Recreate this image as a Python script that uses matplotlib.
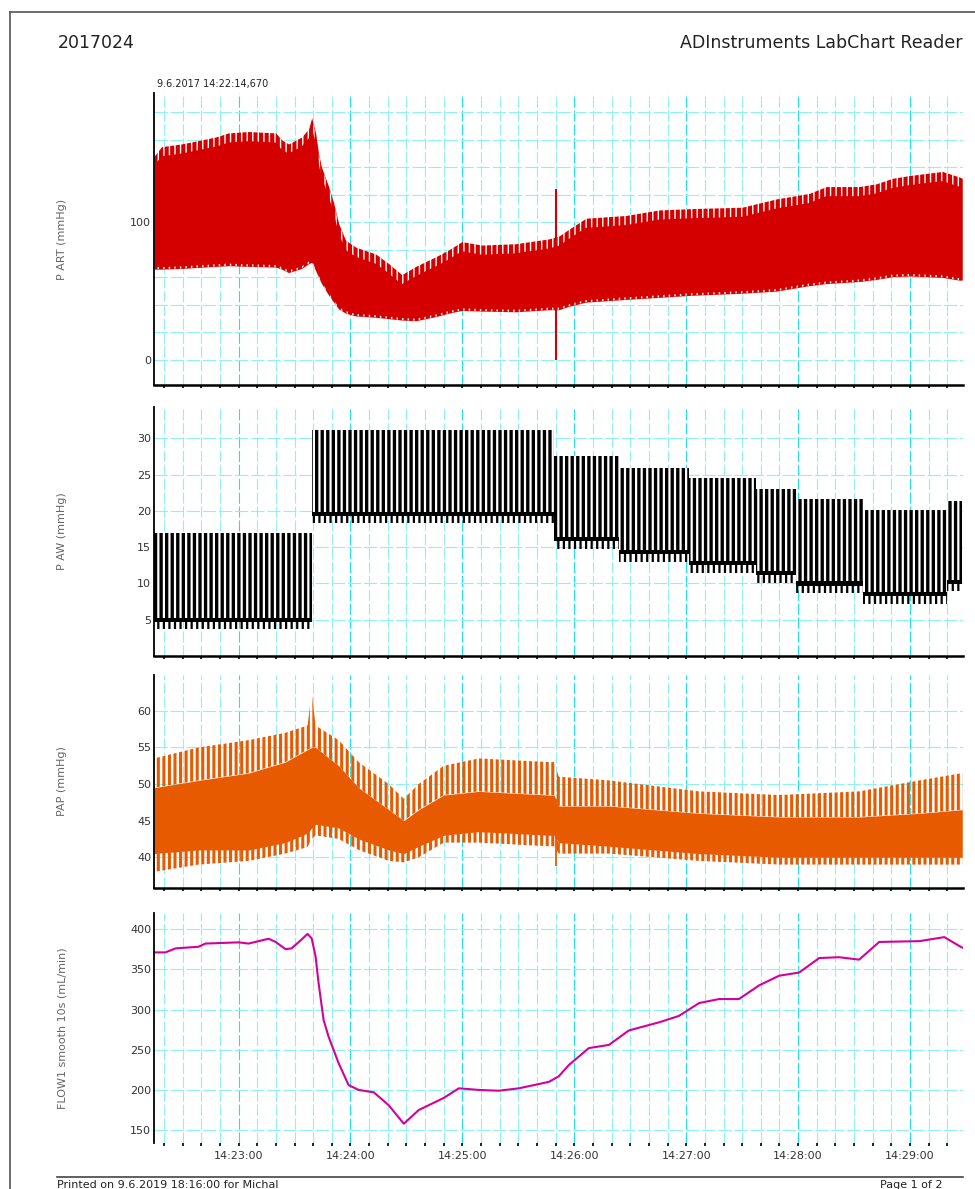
import matplotlib.pyplot as plt
from matplotlib.lines import Line2D
from matplotlib.ticker import MultipleLocator, FixedLocator, FuncFormatter, NullFormatter

# time axis: seconds after 14:22:00
t_start, t_end = 14.67, 448.4

# P ART envelope (mmHg)
art_t = [14.7, 18.7, 29.4, 47.7, 54.6, 65.4, 79.9, 83.1, 86.8, 93.8, 97.6, 99.2,
         101.3, 102.9, 104.5, 108.3, 111.0, 113.7, 117.4, 122.8, 133.5, 140.5,
         147.5, 155.0, 165.7, 172.7, 179.7, 190.4, 208.7, 226.4, 231.7, 237.1,
         246.2, 267.7, 285.4, 303.1, 330.0, 348.2, 365.9, 375.1, 392.7, 401.9,
         410.5, 419.6, 437.3, 446.4, 448.0]
art_sys = [148, 155, 157, 162, 165, 166, 165, 160, 157, 162, 168, 176,
           165, 150, 140, 126, 114, 99, 87, 82, 77, 70,
           62, 68, 75, 80, 86, 83.5, 84.5, 88, 90, 95,
           103, 105, 109, 110, 111, 117, 121, 126, 126, 128,
           132, 134, 137, 133, 132]
art_dia = [66, 66, 66.5, 68, 68.5, 68, 67.5, 66, 63.5, 66.5, 70, 71,
           65, 60, 55.5, 47, 42, 37, 34, 32, 31, 30,
           29, 28.5, 31.5, 34, 36, 35.5, 35, 36.5, 36.5, 39,
           42, 44, 45.5, 47, 48.5, 50, 54, 55.5, 57, 58.5,
           60.5, 61, 60, 58, 58]
art_spike_t = 230.1
art_spike = (0, 124)

# P AW ventilation segments (mmHg)
paw_edges = [14.7, 99.2, 229.1, 263.9, 301.5, 337.5, 358.9, 394.9, 440.0, 448.0]
paw_peep = [5.0, 19.6, 16.1, 14.3, 12.8, 11.4, 10.0, 8.5, 10.2]
paw_peak = [17.0, 31.2, 27.5, 25.9, 24.5, 23.0, 21.6, 20.1, 21.4]

# PAP envelope (mmHg): tooth tips and solid band
pap_t = [14.7, 38.5, 65.4, 85.0, 97.0, 99.2, 101.3, 113.7, 124.4, 140.5, 148.6,
         156.6, 170.0, 188.8, 226.4, 229.1, 231.7, 258.6, 306.9, 349.8, 392.7,
         425.0, 448.0]
pap_top = [53.5, 55, 56, 57, 58, 62.5, 58, 56, 53, 50, 48,
           50, 52.5, 53.5, 53, 53, 51, 50.5, 49, 48.5, 49,
           50.5, 51.5]
pap_hi = [49.5, 50.5, 51.5, 53, 54.7, 55, 55, 52.5, 49.5, 46.5, 45,
          46.5, 48.5, 49, 48.5, 48.5, 47, 47, 46, 45.5, 45.5,
          46, 46.5]
pap_lo = [40.5, 41, 41, 42, 43.3, 44, 44.5, 44, 42.5, 41, 40.5,
          41.5, 43, 43.5, 43, 43, 42, 41.5, 40.5, 40, 40,
          40, 40]
pap_bot = [38, 39, 39.5, 40.5, 41.4, 42.5, 43, 42.5, 41, 39.5, 39.3,
           40, 42, 42, 41.5, 41.5, 40.5, 40.5, 39.5, 39, 39,
           39, 39]
pap_spike_t = 230.1
pap_spike = (38.8, 48)

# FLOW1 smooth 10s (mL/min)
flow_t = [14.7, 20.8, 26.2, 38.5, 42.3, 60.0, 65.4, 76.1, 79.9, 85.2, 88.4,
          93.8, 97.0, 99.2, 101.3, 102.9, 105.6, 108.3, 113.7, 119.0, 124.4,
          132.5, 140.5, 148.6, 156.6, 170.0, 178.1, 188.8, 199.5, 210.3, 226.4,
          231.7, 237.1, 247.8, 258.6, 269.3, 285.4, 296.1, 306.9, 317.6, 328.3,
          339.1, 349.8, 360.6, 371.3, 382.0, 392.7, 403.5, 425.0, 438.4, 446.4, 448.0]
flow = [371, 371, 376, 378, 382, 383.5, 382, 388, 384, 375, 376,
        387, 394, 388.5, 366, 333, 287, 266, 233, 206, 200,
        197, 181, 158, 175, 190, 202, 200, 199, 202, 210,
        217, 231, 252, 256, 274, 284, 292, 308, 313, 313,
        330, 342, 346, 364, 365, 362, 384, 385, 390, 379, 377]

RED = "#d40000"
ORANGE = "#e85a00"
MAGENTA = "#d4009c"
GRID_MINOR = "#8ef2f2"
GRID_MAJOR = "#1ee3ee"

plt.rcParams["font.family"] = "DejaVu Sans"
plt.rcParams["hatch.linewidth"] = 1.2

W, H = 975, 1189
fig = plt.figure(figsize=(W / 100, H / 100), dpi=100)


def panel(top, bottom):
    return fig.add_axes([154 / W, 1 - bottom / H, 809 / W, (bottom - top) / H])


def beats(ax, x, y1, y2, color, width):
    # vertical stroke texture between two curves
    c = ax.fill_between(x, y1, y2, facecolor="none", edgecolor=color, hatch="|||", lw=0)
    if hasattr(c, "set_hatch_linewidth"):
        c.set_hatch_linewidth(width)
    return c


def style(ax, ylim, yticks, ygrid, label, last=False):
    ax.set_xlim(t_start, t_end)
    ax.set_ylim(*ylim)
    ax.set_axisbelow(True)
    for s in ("top", "right"):
        ax.spines[s].set_visible(False)
    ax.spines["left"].set_linewidth(1.3)
    ax.spines["bottom"].set_linewidth(1.8)
    if last:
        ax.spines["bottom"].set_visible(False)
    ax.xaxis.set_major_locator(MultipleLocator(60))
    ax.xaxis.set_minor_locator(MultipleLocator(10))
    ax.yaxis.set_major_locator(FixedLocator(yticks))
    ax.yaxis.set_minor_locator(MultipleLocator(ygrid))
    ax.grid(which="major", axis="x", color=GRID_MAJOR, lw=0.8, ls=(0, (10, 2.5)))
    ax.grid(which="minor", axis="x", color=GRID_MINOR, lw=0.8, ls=(0, (10, 2.5)))
    ax.grid(which="both", axis="y", color=GRID_MINOR, lw=0.8, ls=(0, (12, 2.5)))
    ax.tick_params(axis="y", which="both", length=0, pad=2, labelsize=8, labelcolor="#333333")
    ax.tick_params(axis="x", which="both", length=2, width=1.2, direction="out")
    if last:
        ax.xaxis.set_major_formatter(
            FuncFormatter(lambda v, p: f"14:{22 + int(v) // 60}:{int(v) % 60:02d}"))
        ax.tick_params(axis="x", which="major", labelsize=8, labelcolor="#333333", pad=4)
    else:
        ax.xaxis.set_major_formatter(NullFormatter())
    ax.set_ylabel(label, fontsize=8, color="#666666")
    ax.yaxis.set_label_coords(-0.1075, 0.5)


# P ART: solid band, white gaps between beats along both edges
ax1 = panel(93, 385)
ax1.fill_between(art_t, art_dia, art_sys, color=RED, lw=0)
beats(ax1, art_t, [s - 7 for s in art_sys], art_sys, "white", 1.0)
beats(ax1, art_t, art_dia, [d + 1.5 for d in art_dia], "white", 1.0)
ax1.vlines(art_spike_t, *art_spike, color=RED, lw=1.5)
style(ax1, (-18.2, 194), [0, 100], 20, "P ART (mmHg)")

# P AW: one block per PEEP step, breaths as black bars
ax2 = panel(407, 656)
for i in range(len(paw_peep)):
    seg = paw_edges[i:i + 2]
    peep, peak = paw_peep[i], paw_peak[i]
    ax2.fill_between(seg, peep - 0.3, peak, color="black", lw=0)
    beats(ax2, seg, peep + 0.3, peak, "white", 1.6)
    beats(ax2, seg, peep - 1.3, peep - 0.3, "black", 1.6)
style(ax2, (0, 34.3), [5, 10, 15, 20, 25, 30], 5, "P AW (mmHg)")

# PAP: solid band with beat spikes above and below
ax3 = panel(675, 888)
ax3.fill_between(pap_t, pap_lo, pap_hi, color=ORANGE, lw=0)
beats(ax3, pap_t, pap_hi, pap_top, ORANGE, 2.2)
beats(ax3, pap_t, pap_bot, pap_lo, ORANGE, 2.2)
ax3.vlines(pap_spike_t, *pap_spike, color=ORANGE, lw=1.3)
style(ax3, (35.8, 64.9), [40, 45, 50, 55, 60], 5, "PAP (mmHg)")

# FLOW
ax4 = panel(913, 1143)
ax4.plot(flow_t, flow, color=MAGENTA, lw=1.5)
style(ax4, (134, 420), [150, 200, 250, 300, 350, 400], 50,
      "FLOW1 smooth 10s (mL/min)", last=True)

# page header, frame and footer
fig.text(58 / W, 1 - 43 / H, "2017024", fontsize=12.5, color="#222222", va="center")
fig.text(963 / W, 1 - 43 / H, "ADInstruments LabChart Reader", fontsize=12.5,
         color="#222222", va="center", ha="right")
fig.text(157 / W, 1 - 84 / H, "9.6.2017 14:22:14,670", fontsize=7, color="#222222",
         va="center")
fig.add_artist(Line2D([10 / W, 1], [1 - 12 / H] * 2, color="#555555", lw=1.2,
                      transform=fig.transFigure))
fig.add_artist(Line2D([10 / W] * 2, [0, 1 - 12 / H], color="#555555", lw=1.2,
                      transform=fig.transFigure))
fig.add_artist(Line2D([57 / W, 963 / W], [1 - 1177 / H] * 2, color="#444444", lw=1.2,
                      transform=fig.transFigure))
fig.text(57 / W, 1 - 1180 / H, "Printed on 9.6.2019 18:16:00 for Michal", fontsize=8,
         color="#222222", va="top")
fig.text(943 / W, 1 - 1180 / H, "Page 1 of 2", fontsize=8, color="#222222",
         va="top", ha="right")

fig.savefig("out.png", dpi=100)
